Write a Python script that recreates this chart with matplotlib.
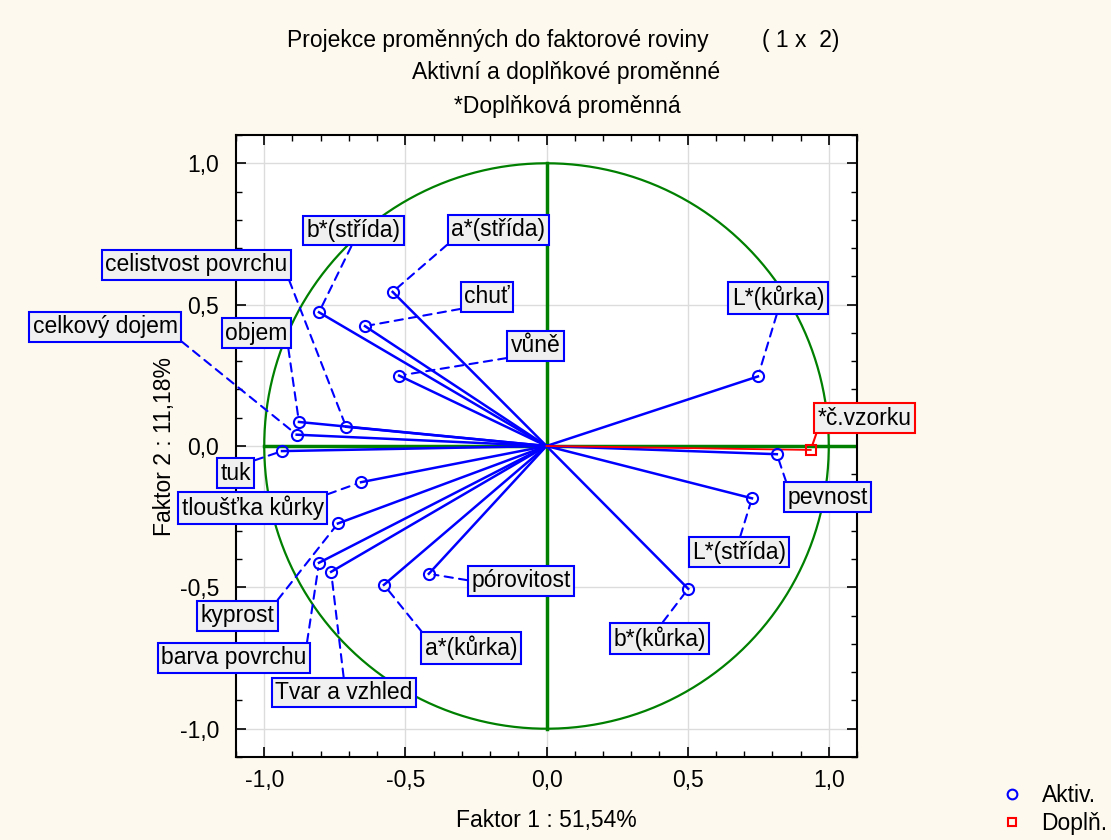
import numpy as np
import matplotlib
matplotlib.use("Agg")
import matplotlib.pyplot as plt
from matplotlib.lines import Line2D
from matplotlib.ticker import MultipleLocator, FuncFormatter

plt.rcParams['font.family'] = ['Liberation Sans', 'DejaVu Sans']

# active variables: name, factor 1, factor 2
names = ["b*(střída)", "a*(střída)", "chuť", "vůně", "objem", "celistvost povrchu",
         "celkový dojem", "tuk", "tloušťka kůrky", "kyprost", "barva povrchu",
         "Tvar a vzhled", "a*(kůrka)", "pórovitost", "L*(kůrka)", "pevnost",
         "L*(střída)", "b*(kůrka)"]
f1 = [-0.806, -0.545, -0.643, -0.522, -0.877, -0.710, -0.885, -0.937, -0.657,
      -0.739, -0.806, -0.763, -0.576, -0.417, 0.749, 0.816, 0.728, 0.502]
f2 = [0.473, 0.545, 0.424, 0.249, 0.085, 0.068, 0.040, -0.018, -0.128,
      -0.274, -0.413, -0.445, -0.491, -0.452, 0.246, -0.029, -0.185, -0.505]

# supplementary variable
sup_name = "*č.vzorku"
sup_f1 = 0.936
sup_f2 = -0.014

# label box centres and leader attach points (layout)
label_pos = [(-0.684, 0.762), (-0.171, 0.765), (-0.210, 0.528), (-0.039, 0.354),
             (-1.027, 0.399), (-1.240, 0.641), (-1.564, 0.422), (-1.102, -0.096),
             (-1.041, -0.219), (-1.095, -0.600), (-1.108, -0.749), (-0.717, -0.872),
             (-0.267, -0.714), (-0.090, -0.477), (0.820, 0.523), (0.996, -0.181),
             (0.682, -0.375), (0.401, -0.681)]
attach = [(0.5, 0), (0, 0), (0, 0), (0, 0), (1, 0), (1, 0), (1, 0), (1, 1),
          (1, 1), (1, 1), (1, 1), (0.5, 1), (0, 1), (0, 0.5), (0.5, 0), (0, 1),
          (0.5, 1), (0.5, 1)]
sup_label_pos = (1.127, 0.098)

fig = plt.figure(figsize=(11.11, 8.4), dpi=100)
fig.patch.set_facecolor("#fdf9ee")
ax = fig.add_axes([236 / 1111, 1 - 757 / 840, 621 / 1111, 622 / 840])
ax.set_facecolor("white")

ax.set_xlim(-1.1, 1.1)
ax.set_ylim(-1.1, 1.1)

ax.xaxis.set_major_locator(MultipleLocator(0.5))
ax.yaxis.set_major_locator(MultipleLocator(0.5))
ax.xaxis.set_minor_locator(MultipleLocator(0.1))
ax.yaxis.set_minor_locator(MultipleLocator(0.1))
fmt = FuncFormatter(lambda v, p: f"{v:.1f}".replace(".", ",").replace("-0,0", "0,0"))
ax.xaxis.set_major_formatter(fmt)
ax.yaxis.set_major_formatter(fmt)
ax.tick_params(which="both", direction="in", top=True, right=True, color="black")
ax.tick_params(which="major", length=7, width=1.2, labelsize=16.5)
ax.tick_params(which="minor", length=4, width=1)
ax.tick_params(axis="x", pad=9)
ax.tick_params(axis="y", pad=12)
for s in ax.spines.values():
    s.set_linewidth(1.5)
ax.grid(True, which="major", color="#dcdcdc", lw=1)
ax.set_axisbelow(True)

# unit circle and axes
t = np.linspace(0, 2 * np.pi, 400)
ax.plot(np.cos(t), np.sin(t), color="#008000", lw=1.6, zorder=2)
ax.plot([-1, 1.1], [0, 0], color="#008000", lw=2.5, zorder=2)
ax.plot([0, 0], [-1, 1], color="#008000", lw=2.5, zorder=2)

# vectors
for x, y in zip(f1, f2):
    ax.plot([0, x], [0, y], color="blue", lw=1.8, zorder=3)
ax.plot(f1, f2, "o", mfc="none", mec="blue", ms=8, mew=1.5, zorder=4)
ax.plot([0, sup_f1], [0, sup_f2], color="red", lw=1.3, zorder=3)
ax.plot([sup_f1], [sup_f2], "s", mfc="none", mec="red", ms=7, mew=1.5, zorder=4)

# labels with dashed leaders
for n, x, y, (lx, ly), rp in zip(names, f1, f2, label_pos, attach):
    ax.annotate(n, xy=(x, y), xytext=(lx, ly), ha="center", va="center",
                fontsize=16.5, zorder=6, annotation_clip=False,
                bbox=dict(boxstyle="square,pad=0.15", fc="#f0f0f0", ec="blue", lw=1.5),
                arrowprops=dict(arrowstyle="-", linestyle=(0, (4, 3)), color="blue",
                                lw=1.5, shrinkA=0, shrinkB=4, relpos=rp))
ax.annotate(sup_name, xy=(sup_f1, sup_f2), xytext=sup_label_pos, ha="center", va="center",
            fontsize=16.5, zorder=6, annotation_clip=False,
            bbox=dict(boxstyle="square,pad=0.15", fc="#f0f0f0", ec="red", lw=1.5),
            arrowprops=dict(arrowstyle="-", color="red", lw=1.5, shrinkA=0, shrinkB=4,
                            relpos=(0, 0)))

ax.set_xlabel("Faktor 1 : 51,54%", fontsize=16.5, labelpad=12)
ax.set_ylabel("Faktor 2 : 11,18%", fontsize=16.5, labelpad=3)

fig.text(287 / 1111, 1 - 40 / 840, "Projekce proměnných do faktorové roviny",
         ha="left", va="center", fontsize=16.5)
fig.text(762 / 1111, 1 - 40 / 840, "( 1 x  2)", ha="left", va="center", fontsize=16.5)
fig.text(566 / 1111, 1 - 73 / 840, "Aktivní a doplňkové proměnné",
         ha="center", va="center", fontsize=16.5)
fig.text(567 / 1111, 1 - 106 / 840, "*Doplňková proměnná",
         ha="center", va="center", fontsize=16.5)

handles = [Line2D([], [], ls="none", marker="o", mfc="none", mec="blue", ms=7, mew=1.5),
           Line2D([], [], ls="none", marker="s", mfc="none", mec="red", ms=6, mew=1.5)]
fig.legend(handles, ["Aktiv.", "Doplň."], loc="lower left",
           bbox_to_anchor=(0.888, -0.013), frameon=False, fontsize=16.5,
           handlelength=0.8, handletextpad=0.9, labelspacing=0.2,
           borderaxespad=0.3)

fig.savefig("out.png", dpi=100, facecolor=fig.get_facecolor())
